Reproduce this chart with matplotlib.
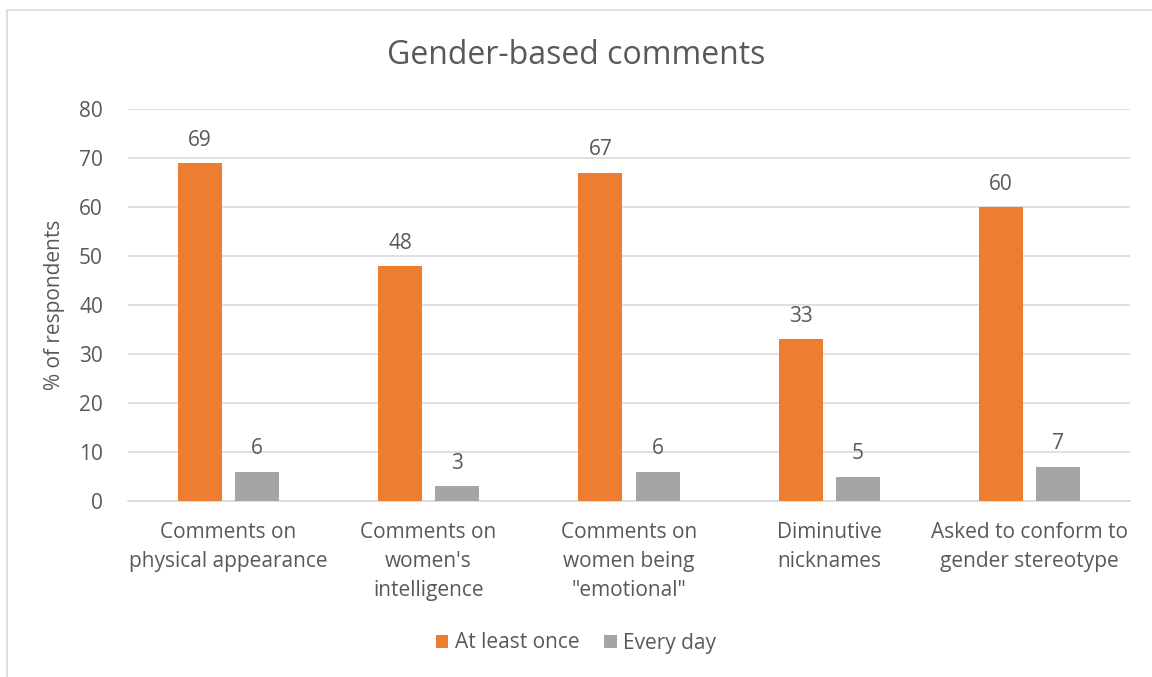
import numpy as np
import matplotlib.pyplot as plt
from matplotlib.patches import Rectangle

plt.rcParams['font.family'] = ['Open Sans', 'DejaVu Sans']

# Data
categories = ['Comments on\nphysical appearance', "Comments on\nwomen's\nintelligence",
              'Comments on\nwomen being\n"emotional"', 'Diminutive\nnicknames',
              'Asked to conform to\ngender stereotype']
at_least_once = [69, 48, 67, 33, 60]
every_day = [6, 3, 6, 5, 7]

orange = '#ED7D31'
gray = '#A5A5A5'
txt = '#595959'

fig = plt.figure(figsize=(11.52, 6.77), dpi=100)
ax = fig.add_axes([128 / 1152, 1 - 501 / 677, (1130 - 128) / 1152, (501 - 109) / 677])

# outer chart border (cropped on right/bottom)
fig.patches.append(Rectangle((7 / 1152, -0.1), 1.2, 1 - 10 / 677 + 0.1,
                             transform=fig.transFigure, fill=False,
                             edgecolor='#D9D9D9', linewidth=1.2))

x = np.arange(len(categories))
w = 0.22
off = 0.1425
b1 = ax.bar(x - off, at_least_once, w, color=orange, label='At least once', zorder=3)
b2 = ax.bar(x + off, every_day, w, color=gray, label='Every day', zorder=3)

for bars, vals in [(b1, at_least_once), (b2, every_day)]:
    for r, v in zip(bars, vals):
        ax.text(r.get_x() + r.get_width() / 2, v + 2.5, str(v), ha='center', va='bottom',
                fontsize=15, color=txt)

ax.set_xlim(-0.5, len(categories) - 0.5)
ax.set_ylim(0, 80)
ax.set_yticks(range(0, 81, 10))
ax.yaxis.grid(True, color='#D9D9D9', linewidth=1.2, zorder=0)
ax.set_xticks(x)
ax.set_xticklabels(categories, fontsize=15, color=txt, linespacing=1.5)
ax.tick_params(axis='y', labelsize=15, labelcolor=txt, length=0, pad=18)
ax.tick_params(axis='x', length=0, pad=15)
for s in ['top', 'right', 'left']:
    ax.spines[s].set_visible(False)
ax.spines['bottom'].set_color('#D9D9D9')
ax.spines['bottom'].set_linewidth(1.2)

ax.set_ylabel('% of respondents', fontsize=15, color=txt, labelpad=10)
fig.text(0.5, 1 - 56 / 677, 'Gender-based comments', ha='center', va='center',
         fontsize=23, color=txt)

leg = fig.legend(loc='center', bbox_to_anchor=(0.5, 1 - 643 / 677), ncol=2, frameon=False,
                 fontsize=15, handlelength=0.6, handleheight=0.6, handletextpad=0.3,
                 columnspacing=1.2)
for t in leg.get_texts():
    t.set_color(txt)

fig.savefig('out.png', dpi=100)
